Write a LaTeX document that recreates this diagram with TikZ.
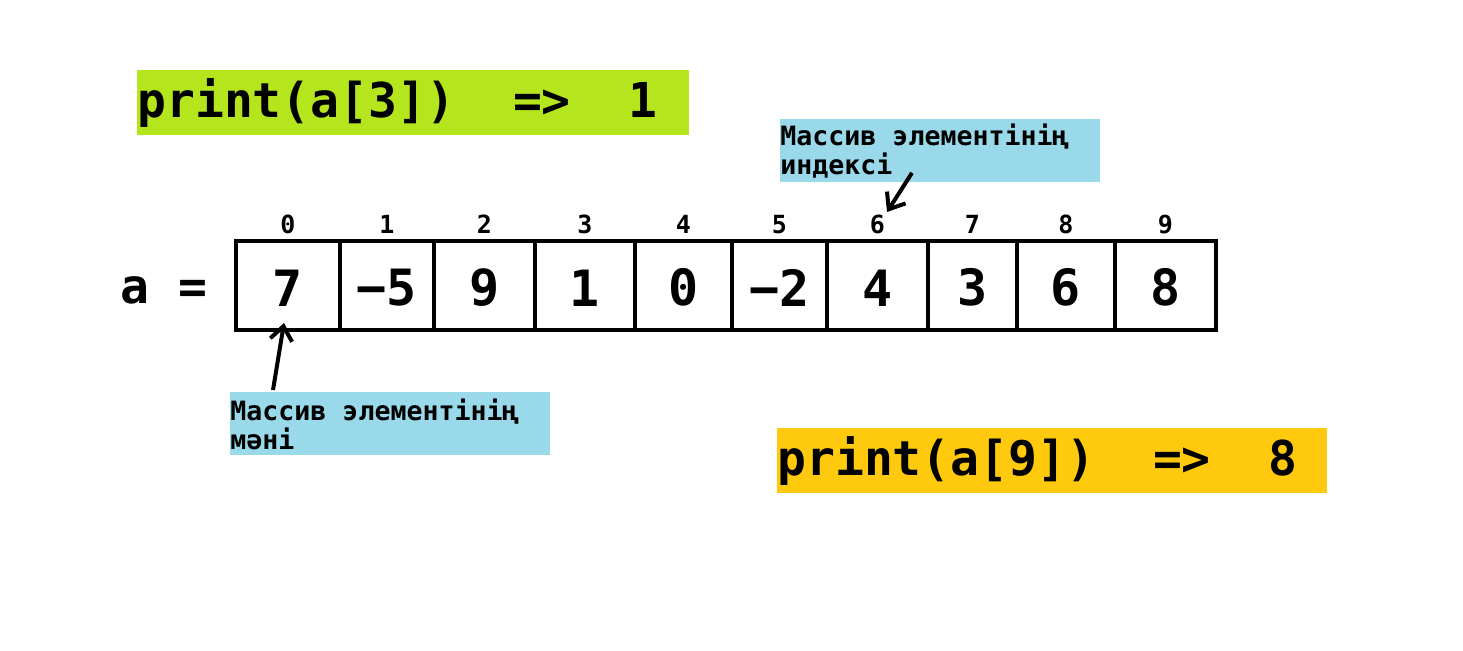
\documentclass[tikz,border=0pt]{standalone}
\usepackage{fontspec}
\setmonofont{DejaVu Sans Mono}
\usetikzlibrary{arrows.meta,positioning}
\definecolor{limegreen}{HTML}{B5E61D}
\definecolor{amber}{HTML}{FFC90E}
\definecolor{skyblue}{HTML}{99D9EA}
\newcommand{\gap}[1]{\hphantom{#1}}
\tikzset{cell/.style={
            draw,
            line width=2pt,
            minimum height=44.5pt,
            inner sep=0pt,
            text height=20.5pt,
            font=\ttfamily\bfseries\fontsize{25}{25}\selectfont
        },
        idx/.style={
            anchor=south,
            inner sep=2.5pt,
            font=\ttfamily\bfseries\fontsize{12.5}{12.5}\selectfont
        },
        code/.style={
            anchor=north west,
            inner sep=0pt,
            minimum height=32.5pt,
            align=left,
            font=\ttfamily\bfseries\fontsize{24}{24}\selectfont
        },
        note/.style={
            anchor=north west,
            fill=skyblue,
            inner sep=0pt,
            text width=160pt,
            minimum height=31.5pt,
            align=left,
            font=\ttfamily\bfseries\fontsize{13.3}{14.5}\selectfont
        },
        pointer/.style={
            -{Straight Barb[length=7pt,width=11pt]},
            line width=2pt
        }
    }
\begin{document}
\begin{tikzpicture}[x=0.5pt,y=-0.5pt]
        \useasboundingbox (0,0) rectangle (1463,650);
        % code lines
        \node[code,fill=limegreen,text width=276pt] (get3) at (137,70) {print(a[3])\gap{xx}=>\gap{xx}1};
        \node[code,fill=amber,text width=275pt] (get9) at (777,428) {print(a[9])\gap{xx}=>\gap{xx}8};
        % the array
        \node[font=\ttfamily\bfseries\fontsize{24}{24}\selectfont] (name) at (164,290) {a\gap{x}=};
        \foreach \i/\l/\r/\v in {0/236/340/7, 1/340/434/−5, 2/434/535/9, 3/535/635/1, 4/635/732/0,
                                 5/732/827/−2, 6/827/928/4, 7/928/1017/3, 8/1017/1115/6, 9/1115/1216/8} {
            \node[cell,minimum width={(\r-\l)*0.5pt}] (c\i) at ({(\l+\r)/2},285.5) {\v};
            \node[idx] (i\i) at (c\i.north) {\i};
        }
        % notes
        \node[note] (lblidx) at (780,119) {Массив\gap{x}элементінің\\индексі};
        \node[note] (lblval) at (230,392) {Массив\gap{x}элементінің\\мәні};
        \coordinate (idxtip) at (887,212);
        \draw[pointer] ([xshift=66pt,yshift=5pt]lblidx.south west) -- (idxtip);
        \draw[pointer] ([xshift=21.5pt,yshift=1pt]lblval.north west) -- ([xshift=-2pt,yshift=4.5pt]c0.south);
    \end{tikzpicture}
\end{document}
